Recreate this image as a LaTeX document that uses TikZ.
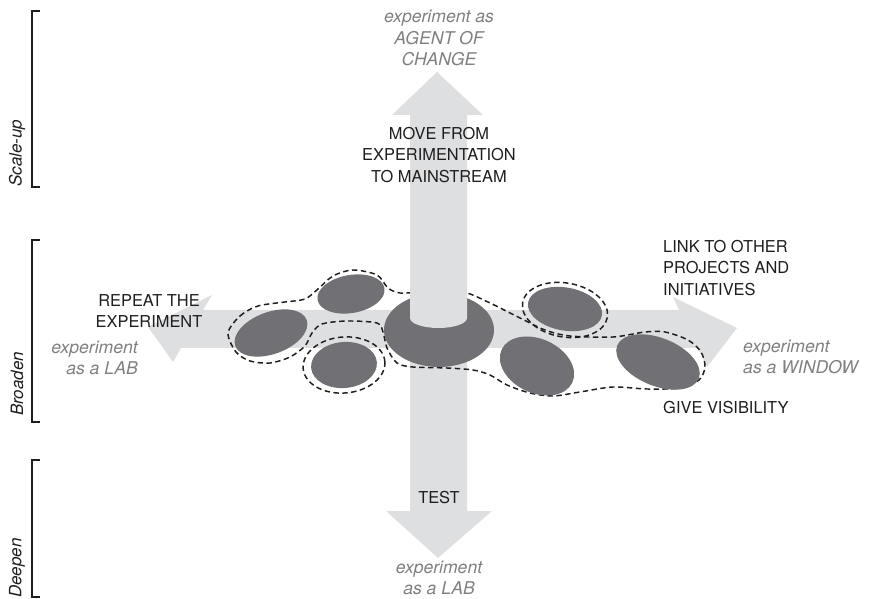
\documentclass[tikz,border=0pt]{standalone}
\usepackage{fontspec}
\setmainfont{TeX Gyre Heros}
\usepackage{xcolor}
\usepackage{tikz}
\definecolor{lanegray}{RGB}{222,223,225}
\definecolor{blobgray}{RGB}{112,112,117}
\definecolor{notegray}{RGB}{128,128,128}
\definecolor{inkgray}{RGB}{30,30,30}
\tikzset{
  lane/.style={fill=lanegray},
  blob/.style={fill=blobgray},
  halo/.style={draw=inkgray,line width=1.25pt,dash pattern=on 4.6pt off 3pt},
  caps/.style={font=\fontsize{14}{18.4}\selectfont,align=center,text=inkgray,inner sep=0pt},
  note/.style={font=\fontsize{15}{18}\selectfont\itshape,align=center,text=notegray,inner sep=0pt},
  side/.style={font=\fontsize{14.5}{17}\selectfont\itshape,rotate=90,anchor=west,text=inkgray,inner sep=0pt},
  brk/.style={line width=1.7pt,inkgray}
}
\newcommand{\phasebar}[2]{\draw[brk] (40,#1) -- (32,#1) -- (32,#2) -- (40,#2);}

\begin{document}
\begin{tikzpicture}[x=0.03cm,y=-0.03cm]
\useasboundingbox (0,0) rectangle (889,599);
% broaden axis
\fill[lane] (148,327) -- (212,295) -- (203,310) -- (679,310) -- (673,297) -- (737,328)
  -- (707,367) -- (698,348) -- (181,348) -- (173,362) -- cycle;
% deepen axis
\fill[lane] (410,330) -- (410,511) -- (386,511) -- (438,558) -- (492,511) -- (467,511) -- (467,330) -- cycle;
% dashed groupings
\draw[halo] plot[smooth cycle] coordinates {(228,333) (240,316) (258,306) (285,302) (305,299)
  (318,289) (333,276) (353,270) (377,275) (388,288) (400,293) (420,292) (445,291) (467,293)
  (490,303) (520,318) (545,330) (570,336) (613,337) (645,332) (665,332) (688,340) (701,352)
  (705,367) (699,380) (680,388) (647,389) (613,387) (580,392) (553,396) (530,393) (507,385)
  (490,375) (473,370) (447,368) (413,367) (397,363) (387,348) (383,332) (377,323) (347,321)
  (322,324) (312,333) (305,346) (290,357) (270,363) (250,361) (236,352)};
\draw[halo,rotate around={5:(344,365)}] (344,365) ellipse [x radius=41,y radius=28];
\draw[halo,rotate around={-10:(565,310)}] (565,310) ellipse [x radius=43,y radius=27];
% experiments
\fill[blob,rotate around={20:(271,333)}] (271,333) ellipse [x radius=38,y radius=21];
\fill[blob,rotate around={10:(351,294)}] (351,294) ellipse [x radius=34,y radius=19];
\fill[blob,rotate around={5:(344,365)}] (344,365) ellipse [x radius=33,y radius=23];
\fill[blob,rotate around={-10:(565,309)}] (565,309) ellipse [x radius=37.5,y radius=21.5];
\fill[blob,rotate around={-25:(537,366)}] (537,366) ellipse [x radius=39,y radius=27];
\fill[blob,rotate around={-22:(658,362)}] (658,362) ellipse [x radius=44,y radius=24];
\fill[blob] (439,330) ellipse [x radius=55,y radius=37];
% scale-up axis
\fill[lane] (410,318) -- (410,115) -- (392,115) -- (437,72) -- (483,115) -- (467,115) -- (467,318) -- cycle;
\fill[lane] (438.5,318) ellipse [x radius=28.5,y radius=10];
% labels
\node[note] (agent) at (439,38) {experiment as\\AGENT OF\\CHANGE};
\node[caps] (move) at (439,155) {MOVE FROM\\EXPERIMENTATION\\TO MAINSTREAM};
\node[caps] (repeat) at (149,311) {REPEAT THE\\EXPERIMENT};
\node[note,align=right,anchor=east] (lableft) at (138,358) {experiment\\as a LAB};
\node[caps,align=left,anchor=west] (link) at (663,268) {LINK TO OTHER\\PROJECTS AND\\INITIATIVES};
\node[note,align=left,anchor=west] (window) at (743,357) {experiment\\as a WINDOW};
\node[caps,anchor=west] (visible) at (663,408) {GIVE VISIBILITY};
\node[caps] (test) at (439,498) {TEST};
\node[note] (labdown) at (439,578) {experiment\\as a LAB};
% phases
\phasebar{11}{187}
\phasebar{240}{422}
\phasebar{460}{597}
\node[side] (scaleup) at (17,187) {Scale-up};
\node[side] (broaden) at (17,416) {Broaden};
\node[side] (deepen) at (17,598) {Deepen};
\end{tikzpicture}
\end{document}
